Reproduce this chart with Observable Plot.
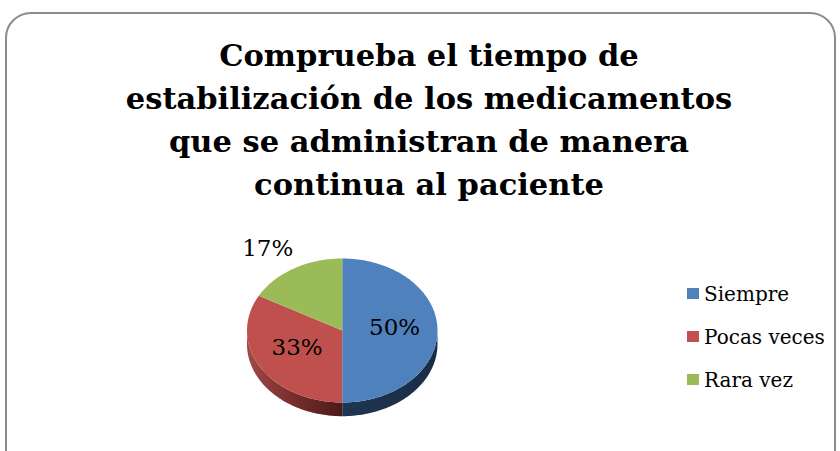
<!DOCTYPE html>
<html>
<head>
<meta charset="utf-8">
<script src="https://cdn.jsdelivr.net/npm/d3@7"></script>
<script src="https://cdn.jsdelivr.net/npm/@observablehq/plot@0.6"></script>
<style>
  html, body { margin: 0; padding: 0; background: #fff; }
  #wrap { position: relative; width: 840px; height: 451px; overflow: hidden; font-family: "DejaVu Serif", serif; }
  #frame { position: absolute; left: 5px; top: 12px; width: 831px; height: 470px; border: 2px solid #8c8c8c; border-radius: 26px; box-sizing: border-box; }
  #title { position: absolute; left: 29px; top: 34px; width: 800px; text-align: center; font-weight: bold; font-size: 30.5px; line-height: 43px; color: #000; }
  #chart { position: absolute; left: 0; top: 0; }
  #legend { position: absolute; left: 687px; top: 272px; font-size: 20px; color: #000; }
  .item { display: flex; align-items: center; height: 43px; }
  .sw { width: 12px; height: 11px; margin-right: 5px; }
</style>
</head>
<body>
<div id="wrap">
  <div id="frame"></div>
  <div id="title"></div>
  <div id="chart"></div>
  <div id="legend"></div>
</div>
<script>
const titleLines = ["Comprueba el tiempo de", "estabilización de los medicamentos", "que se administran de manera", "continua al paciente"];
const categories = ["Siempre", "Pocas veces", "Rara vez"];
const values = [50, 33, 17];
const labels = ["50%", "33%", "17%"];
const topColors = ["#4F81BD", "#C0504D", "#9BBB59"];

document.getElementById("title").innerHTML = titleLines.join("<br>");

const legend = document.getElementById("legend");
categories.forEach((c, i) => {
  const it = document.createElement("div");
  it.className = "item";
  it.innerHTML = `<span class="sw" style="background:${topColors[i]}"></span><span>${c}</span>`;
  legend.appendChild(it);
});

// geometry
const depth = 0.19;
const arcs = d3.pie().sort(null).value(d => d)(values);
const step = Math.PI / 180;
function arcPts(a0, a1) {
  const pts = [];
  const n = Math.max(2, Math.ceil((a1 - a0) / step));
  for (let k = 0; k <= n; k++) {
    const a = a0 + (a1 - a0) * k / n;
    pts.push([Math.sin(a), Math.cos(a)]);
  }
  return pts;
}
const tops = arcs.map((a, i) => {
  const pts = [[0, 0], ...arcPts(a.startAngle, a.endAngle), [0, 0]];
  return pts.map(([x, y]) => ({x, y, i}));
});
const sides = [];
arcs.forEach((a, i) => {
  const s = Math.max(a.startAngle, Math.PI / 2), e = Math.min(a.endAngle, 3 * Math.PI / 2);
  if (e > s) {
    const p = arcPts(s, e);
    const poly = [...p.map(([x, y]) => ({x, y, i})), ...p.slice().reverse().map(([x, y]) => ({x, y: y - depth, i}))];
    sides.push({i, poly});
  }
});
const sideFill = ["url(#gBlue)", "url(#gRed)", "url(#gGreen)"];

const labelData = arcs.map((a, i) => {
  const m = (a.startAngle + a.endAngle) / 2;
  const outside = values[i] < 20;
  const r = outside ? 1 : 0.55;
  return {x: Math.sin(m) * r, y: Math.cos(m) * r + (outside ? 0 : 0.04), label: labels[i], outside};
});

function defs() {
  const ns = "http://www.w3.org/2000/svg";
  const d = document.createElementNS(ns, "defs");
  d.innerHTML = `
    <linearGradient id="gRed" gradientUnits="userSpaceOnUse" x1="246" y1="0" x2="342" y2="0">
      <stop offset="0" stop-color="#a04a48"/><stop offset="0.45" stop-color="#7a2f2d"/><stop offset="1" stop-color="#4b1a19"/>
    </linearGradient>
    <linearGradient id="gBlue" gradientUnits="userSpaceOnUse" x1="342" y1="0" x2="437" y2="0">
      <stop offset="0" stop-color="#1f3552"/><stop offset="1" stop-color="#1a2d47"/>
    </linearGradient>
    <linearGradient id="gGreen" gradientUnits="userSpaceOnUse" x1="246" y1="0" x2="437" y2="0">
      <stop offset="0" stop-color="#5d7034"/><stop offset="1" stop-color="#5d7034"/>
    </linearGradient>`;
  return d;
}

const chart = Plot.plot({
  width: 840,
  height: 451,
  margin: 0,
  x: {domain: [-1, 1], range: [246.5, 437], axis: null},
  y: {domain: [-1, 1], range: [402, 258], axis: null},
  style: {background: "transparent", overflow: "visible"},
  marks: [
    defs,
    ...sides.map(s => Plot.line(s.poly, {x: "x", y: "y", fill: sideFill[s.i], stroke: "none", curve: "linear-closed"})),
    ...tops.map((t, i) => Plot.line(t, {x: "x", y: "y", fill: topColors[i], stroke: "none", curve: "linear-closed"})),
    Plot.text(labelData.filter(d => !d.outside), {x: "x", y: "y", text: "label", fontSize: 23, fontFamily: "DejaVu Serif", fill: "#000"}),
    Plot.text(labelData.filter(d => d.outside), {x: "x", y: "y", text: "label", fontSize: 23, fontFamily: "DejaVu Serif", fill: "#000", dx: -26, dy: -20})
  ]
});
document.getElementById("chart").appendChild(chart);
</script>
</body>
</html>
